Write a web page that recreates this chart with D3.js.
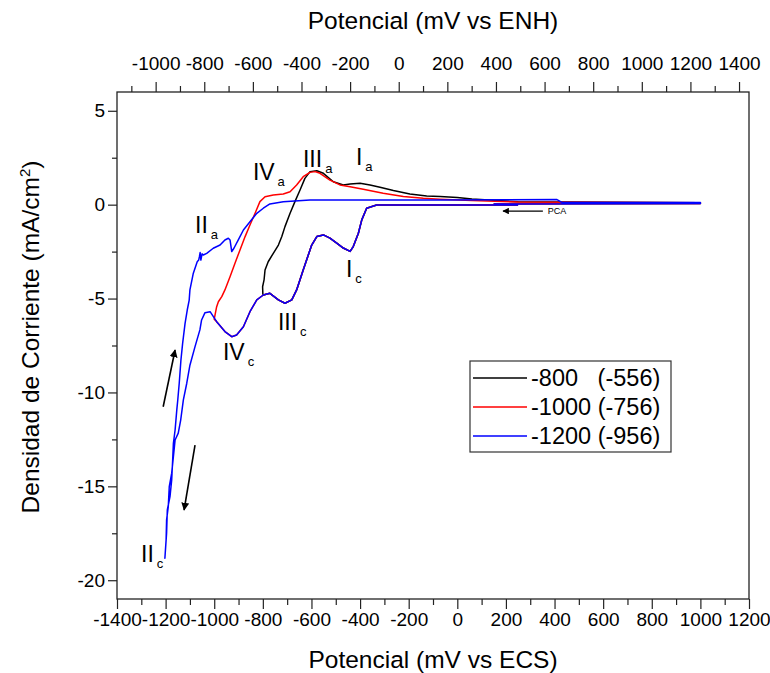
<!DOCTYPE html>
<html>
<head>
<meta charset="utf-8">
<script src="https://cdn.jsdelivr.net/npm/d3@7"></script>
<style>
  body { margin: 0; background: #fff; }
  text { font-family: "Liberation Sans", Arial, sans-serif; fill: #000; }
</style>
</head>
<body>
<div id="chart"></div>
<script>
// ECS -> ENH shift used by the top axis (mV)
const enhOffset = 241;

// common cathodic sweep (ECS mV, mA/cm2), from the start potential towards -1200
const cathE = [250, 0, -250, -332, -373, -393, -407, -428, -441, -469, -496, -524, -551, -578, -599, -613, -634, -661, -681, -709, -736, -771, -798, -825, -853, -880, -908, -928, -956, -990, -1017, -1038, -1052, -1059, -1079, -1100, -1113, -1127, -1138, -1148, -1161, -1168, -1175, -1185, -1189, -1196, -1198, -1203];
const cathJ = [-0.02, -0.02, -0.02, -0.02, -0.19, -0.81, -1.52, -2.23, -2.49, -2.31, -2.05, -1.78, -1.61, -1.70, -2.15, -2.68, -3.48, -4.54, -5.07, -5.25, -5.07, -4.72, -4.81, -5.07, -5.70, -6.50, -6.94, -7.03, -6.76, -6.23, -5.70, -5.75, -6.14, -6.67, -7.56, -8.55, -9.51, -10.40, -11.47, -12.17, -12.53, -13.42, -14.30, -15.02, -16.08, -16.79, -17.86, -18.83];

// anodic return of each scan
const an800E = [-800, -801, -795, -791, -778, -757, -736, -722, -709, -688, -668, -647, -627, -606, -578, -551, -510, -469, -441, -400, -359, -318, -263, -195, -126, -71, 0, 60, 250, 1000, 1000, 150];
const an800J = [-4.75, -4.37, -4.01, -3.48, -3.04, -2.59, -2.15, -1.70, -1.17, -0.46, 0.16, 0.78, 1.40, 1.76, 1.81, 1.67, 1.22, 1.05, 1.10, 1.14, 1.05, 0.93, 0.75, 0.57, 0.46, 0.43, 0.38, 0.30, 0.15, 0.10, 0.06, 0.05];

const an1000E = [-1000, -990, -983, -969, -956, -935, -915, -894, -873, -853, -832, -812, -791, -757, -716, -688, -661, -634, -606, -585, -565, -524, -483, -441, -387, -305, -222, -140, -71, 60, 250, 1000, 1000, 150];
const an1000J = [-6.10, -5.43, -5.17, -4.90, -4.54, -3.84, -3.13, -2.41, -1.70, -1.08, -0.46, 0.16, 0.42, 0.52, 0.57, 0.69, 1.05, 1.49, 1.72, 1.76, 1.67, 1.31, 1.05, 0.96, 0.82, 0.61, 0.43, 0.34, 0.29, 0.22, 0.14, 0.10, 0.06, 0.05];

const an1200E = [-1203, -1196, -1193, -1182, -1175, -1171, -1168, -1161, -1154, -1150, -1144, -1137, -1130, -1120, -1111, -1103, -1100, -1086, -1070, -1064, -1061, -1058, -1055, -1050, -1045, -1031, -1004, -976, -956, -942, -935, -928, -919, -901, -880, -853, -825, -798, -771, -716, -606, -71, 410, 430, 1000, 1000, 150];
const an1200J = [-18.83, -17.50, -16.26, -15.55, -14.66, -13.60, -12.71, -12.00, -10.93, -10.40, -9.51, -8.27, -7.39, -6.32, -5.61, -5.08, -4.54, -3.65, -3.04, -2.95, -2.77, -2.55, -2.95, -2.62, -2.68, -2.59, -2.32, -2.15, -1.88, -1.79, -1.88, -2.50, -2.32, -1.88, -1.35, -0.91, -0.46, -0.19, 0.04, 0.16, 0.25, 0.25, 0.27, 0.12, 0.12, 0.06, 0.04];

const switchE = [-800, -1000, -1200];
const seriesNames = ["-800   (-556)", "-1000 (-756)", "-1200 (-956)"];
const seriesColors = ["#000000", "#ff0000", "#0000ff"];

const xTicks = d3.range(-1400, 1201, 200);
const xMinor = d3.range(-1300, 1200, 200);
const yTicks = [-20, -15, -10, -5, 0, 5];
const yMinor = [-17.5, -12.5, -7.5, -2.5, 2.5];
const topTicks = d3.range(-1000, 1401, 200);
const topMinor = d3.range(-1100, 1400, 200);

// peak labels, anchored in data units (ECS mV, mA/cm2)
const peakMain = ["III", "I", "IV", "II", "I", "III", "IV", "II"];
const peakSub = ["a", "a", "a", "a", "c", "c", "c", "c"];
const peakE = [-635, -417, -841, -1079, -458, -738, -964, -1301];
const peakJ = [2.0, 2.11, 1.31, -1.51, -3.85, -6.67, -8.27, -19.03];

// scan direction arrows [E0, j0, E1, j1]
const arrows = [
    [-1210, -10.76, -1161, -7.74],
    [-1079, -12.80, -1124, -16.26],
    [352, -0.34, 188, -0.34]
];

function buildSeries(i){
    const pts = [];
    cathE.forEach((e, k) => { if (e >= switchE[i]) pts.push([e, cathJ[k]]); });
    const aE = [an800E, an1000E, an1200E][i];
    const aJ = [an800J, an1000J, an1200J][i];
    aE.forEach((e, k) => pts.push([e, aJ[k]]));
    return pts;
}

const W = 770, H = 673;
const plot = { left: 117, right: 749, top: 92, bottom: 599 };

const svg = d3.select("#chart")
    .append("svg")
    .attr("width", W)
    .attr("height", H);

const xScale = d3.scaleLinear().domain([-1400, 1200]).range([plot.left, plot.right]);
const xTop = d3.scaleLinear().domain([-1400 + enhOffset, 1200 + enhOffset]).range([plot.left, plot.right]);
const yScale = d3.scaleLinear().domain([-21, 6]).range([plot.bottom, plot.top]);

svg.append("defs").append("marker")
    .attr("id", "head")
    .attr("viewBox", "0 0 10 10")
    .attr("refX", 9).attr("refY", 5)
    .attr("markerWidth", 5).attr("markerHeight", 5)
    .attr("markerUnits", "strokeWidth")
    .attr("orient", "auto")
    .append("path")
    .attr("d", "M0,0 L10,5 L0,10 z")
    .attr("fill", "#000");

// axes
function styleAxis(g, size){
    g.select(".domain").remove();
    g.selectAll(".tick line").attr("stroke", "#222").attr("stroke-width", 1.2);
    g.selectAll(".tick text").style("font-size", size + "px").attr("fill", "#000");
}

svg.append("g")
    .attr("transform", "translate(0," + plot.bottom + ")")
    .call(d3.axisBottom(xScale).tickValues(xTicks).tickSize(10).tickPadding(4).tickFormat(d => String(d)))
    .call(g => styleAxis(g, 19));
svg.append("g")
    .attr("transform", "translate(0," + plot.bottom + ")")
    .call(d3.axisBottom(xScale).tickValues(xMinor).tickSize(6).tickFormat(""))
    .call(g => styleAxis(g, 19));

svg.append("g")
    .attr("transform", "translate(0," + plot.top + ")")
    .call(d3.axisTop(xTop).tickValues(topTicks).tickSize(10).tickPadding(12).tickFormat(d => String(d)))
    .call(g => styleAxis(g, 19));
svg.append("g")
    .attr("transform", "translate(0," + plot.top + ")")
    .call(d3.axisTop(xTop).tickValues(topMinor).tickSize(6).tickFormat(""))
    .call(g => styleAxis(g, 19));

svg.append("g")
    .attr("transform", "translate(" + plot.left + ",0)")
    .call(d3.axisLeft(yScale).tickValues(yTicks).tickSize(9).tickPadding(3).tickFormat(d => String(d)))
    .call(g => styleAxis(g, 19));
svg.append("g")
    .attr("transform", "translate(" + plot.left + ",0)")
    .call(d3.axisLeft(yScale).tickValues(yMinor).tickSize(5).tickFormat(""))
    .call(g => styleAxis(g, 19));

svg.append("rect")
    .attr("x", plot.left).attr("y", plot.top)
    .attr("width", plot.right - plot.left).attr("height", plot.bottom - plot.top)
    .attr("fill", "none").attr("stroke", "#222").attr("stroke-width", 1.3);

// titles
svg.append("text")
    .attr("x", (plot.left + plot.right) / 2).attr("y", 29)
    .attr("text-anchor", "middle").style("font-size", "24.5px")
    .text("Potencial (mV vs ENH)");
svg.append("text")
    .attr("x", (plot.left + plot.right) / 2).attr("y", 668)
    .attr("text-anchor", "middle").style("font-size", "24.5px")
    .text("Potencial (mV vs ECS)");
const yt = svg.append("text")
    .attr("transform", "translate(39,337) rotate(-90)")
    .attr("text-anchor", "middle").style("font-size", "24.5px");
yt.append("tspan").text("Densidad de Corriente (mA/cm");
yt.append("tspan").attr("dy", -9).style("font-size", "15px").text("2");
yt.append("tspan").attr("dy", 9).text(")");

// curves
const line = d3.line().x(d => xScale(d[0])).y(d => yScale(d[1]));
[0, 1, 2].forEach(i => {
    svg.append("path")
        .datum(buildSeries(i))
        .attr("d", line)
        .attr("fill", "none")
        .attr("stroke", seriesColors[i])
        .attr("stroke-width", 1.5)
        .attr("stroke-linejoin", "round");
});

// peak labels
peakMain.forEach((m, i) => {
    const t = svg.append("text")
        .attr("x", xScale(peakE[i])).attr("y", yScale(peakJ[i]))
        .style("font-size", "23px");
    t.append("tspan").text(m);
    t.append("tspan").attr("dx", 3).attr("dy", 6).style("font-size", "13px").text(peakSub[i]);
});

// arrows
arrows.forEach((a, i) => {
    svg.append("line")
        .attr("x1", xScale(a[0])).attr("y1", yScale(a[1]))
        .attr("x2", xScale(a[2])).attr("y2", yScale(a[3]))
        .attr("stroke", "#000")
        .attr("stroke-width", i < 2 ? 1.6 : 1.3)
        .attr("marker-end", "url(#head)");
});
svg.append("text")
    .attr("x", xScale(arrows[2][0]) + 5).attr("y", yScale(arrows[2][1]))
    .attr("dy", "0.35em").style("font-size", "9px")
    .text("PCA");

// legend
const lg = svg.append("g").attr("transform", "translate(470,361)");
lg.append("rect")
    .attr("width", 201).attr("height", 91)
    .attr("fill", "#fff").attr("stroke", "#333").attr("stroke-width", 1.2);
seriesNames.forEach((name, i) => {
    const yy = 17 + i * 29;
    lg.append("line")
        .attr("x1", 3).attr("x2", 57).attr("y1", yy).attr("y2", yy)
        .attr("stroke", seriesColors[i]).attr("stroke-width", 1.4);
    lg.append("text")
        .attr("x", 61).attr("y", yy).attr("dy", "0.35em")
        .style("font-size", "23.5px").style("white-space", "pre")
        .text(name);
});
</script>
</body>
</html>
